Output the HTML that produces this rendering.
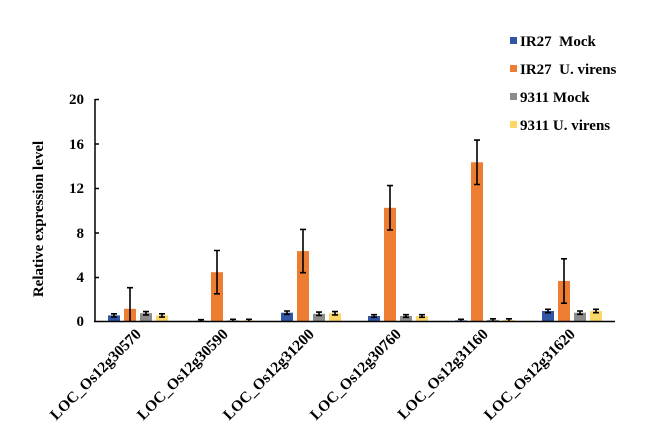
<!DOCTYPE html>
<html><head><meta charset="utf-8"><style>
html,body{margin:0;padding:0;background:#fff;}
svg{display:block;font-family:"Liberation Serif",serif;font-weight:bold;}
</style></head><body>
<svg width="652" height="437" viewBox="0 0 652 437" xmlns="http://www.w3.org/2000/svg">
<rect width="652" height="437" fill="#fff"/>
<g>
<rect x="108" y="315.4" width="12" height="5.6" fill="#2f55a4"/>
<rect x="124" y="308.8" width="12" height="12.2" fill="#ed7d31"/>
<rect x="140" y="313.2" width="12" height="7.8" fill="#8c8c8c"/>
<rect x="156" y="315.4" width="12" height="5.6" fill="#fdd766"/>
<rect x="195" y="320.8" width="12" height="0.2" fill="#2f55a4"/>
<rect x="211" y="272.2" width="12" height="48.8" fill="#ed7d31"/>
<rect x="227" y="320.4" width="12" height="0.6" fill="#8c8c8c"/>
<rect x="243" y="320.4" width="12" height="0.6" fill="#fdd766"/>
<rect x="281" y="312.7" width="12" height="8.3" fill="#2f55a4"/>
<rect x="297" y="251.1" width="12" height="69.9" fill="#ed7d31"/>
<rect x="313" y="313.8" width="12" height="7.2" fill="#8c8c8c"/>
<rect x="329" y="313.2" width="12" height="7.8" fill="#fdd766"/>
<rect x="368" y="316" width="12" height="5" fill="#2f55a4"/>
<rect x="384" y="207.8" width="12" height="113.2" fill="#ed7d31"/>
<rect x="400" y="316" width="12" height="5" fill="#8c8c8c"/>
<rect x="416" y="316" width="12" height="5" fill="#fdd766"/>
<rect x="455" y="320.4" width="12" height="0.6" fill="#2f55a4"/>
<rect x="471" y="162.3" width="12" height="158.7" fill="#ed7d31"/>
<rect x="487" y="319.9" width="12" height="1.1" fill="#8c8c8c"/>
<rect x="503" y="319.9" width="12" height="1.1" fill="#fdd766"/>
<rect x="542" y="311" width="12" height="10" fill="#2f55a4"/>
<rect x="558" y="281" width="12" height="40" fill="#ed7d31"/>
<rect x="574" y="312.7" width="12" height="8.3" fill="#8c8c8c"/>
<rect x="590" y="311" width="12" height="10" fill="#fdd766"/>
</g>
<path fill="none" stroke="#000" stroke-width="1.6" d="
M114 313.8V317.1M111 313.8H117M111 317.1H117
M130 287.7V321M127 287.7H133
M146 311.6V314.9M143 311.6H149M143 314.9H149
M162 313.8V317.1M159 313.8H165M159 317.1H165
M201 319.7V321M198 319.7H204
M217 250.5V293.8M214 250.5H220M214 293.8H220
M233 319.3V321M230 319.3H236
M249 319.3V321M246 319.3H252
M287 311V314.3M284 311H290M284 314.3H290
M303 229.4V272.7M300 229.4H306M300 272.7H306
M319 312.1V315.5M316 312.1H322M316 315.5H322
M335 311.6V314.9M332 311.6H338M332 314.9H338
M374 314.7V317.3M371 314.7H377M371 317.3H377
M390 185.6V230M387 185.6H393M387 230H393
M406 314.7V317.3M403 314.7H409M403 317.3H409
M422 314.7V317.3M419 314.7H425M419 317.3H425
M461 319.3V321M458 319.3H464
M477 140.1V184.5M474 140.1H480M474 184.5H480
M493 318.8V321M490 318.8H496
M509 318.8V321M506 318.8H512
M548 309.3V312.7M545 309.3H551M545 312.7H551
M564 258.8V303.2M561 258.8H567M561 303.2H567
M580 311V314.3M577 311H583M577 314.3H583
M596 309.3V312.7M593 309.3H599M593 312.7H599"/>
<line x1="95" y1="99" x2="95" y2="322" stroke="#000" stroke-width="1.5"/>
<line x1="94" y1="321.5" x2="615" y2="321.5" stroke="#000" stroke-width="1.5"/>
<g stroke="#000" stroke-width="1.5">
<line x1="95" y1="99.5" x2="99" y2="99.5"/><line x1="95" y1="144" x2="99" y2="144"/><line x1="95" y1="188.5" x2="99" y2="188.5"/><line x1="95" y1="233" x2="99" y2="233"/><line x1="95" y1="277.5" x2="99" y2="277.5"/>
</g>
<g font-size="15" text-anchor="end">
<text x="84" y="104">20</text><text x="84" y="149">16</text><text x="84" y="193">12</text><text x="84" y="238">8</text><text x="84" y="282">4</text><text x="84" y="326">0</text>
</g>
<text transform="translate(43,219) rotate(-90)" font-size="15" text-anchor="middle">Relative expression level</text>
<g font-size="15">
<rect x="510" y="37" width="7" height="7" fill="#2f55a4"/><text x="520" y="46">IR27&#160; Mock</text>
<rect x="510" y="65" width="7" height="7" fill="#ed7d31"/><text x="520" y="74">IR27&#160; U. virens</text>
<rect x="510" y="93" width="7" height="7" fill="#8c8c8c"/><text x="520" y="102">9311 Mock</text>
<rect x="510" y="121" width="7" height="7" fill="#fdd766"/><text x="520" y="130">9311 U. virens</text>
</g>
<g font-size="15.5" text-anchor="end">
<text transform="translate(142,335) rotate(-45)">LOC_Os12g30570</text>
<text transform="translate(229,335) rotate(-45)">LOC_Os12g30590</text>
<text transform="translate(315,335) rotate(-45)">LOC_Os12g31200</text>
<text transform="translate(402,335) rotate(-45)">LOC_Os12g30760</text>
<text transform="translate(489,335) rotate(-45)">LOC_Os12g31160</text>
<text transform="translate(576,335) rotate(-45)">LOC_Os12g31620</text>
</g>
</svg>
</body></html>
